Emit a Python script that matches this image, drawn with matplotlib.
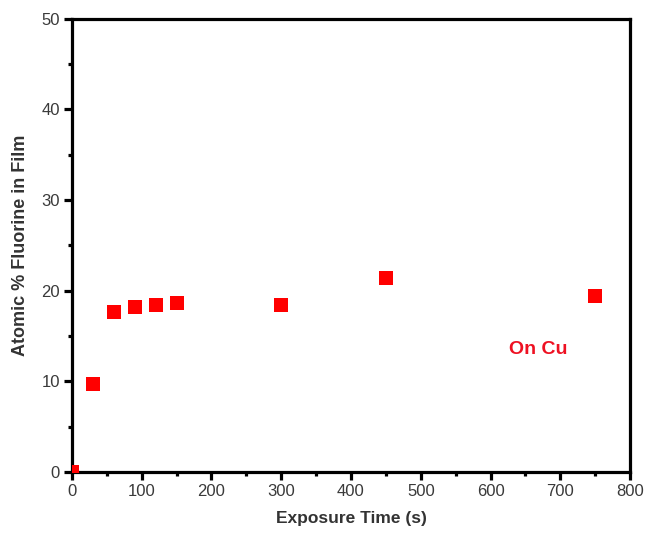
import matplotlib
matplotlib.use("Agg")
import matplotlib.pyplot as plt
from matplotlib.ticker import MultipleLocator

plt.rcParams['font.family'] = ['Liberation Sans', 'DejaVu Sans']

# Exposure time (s) and atomic % fluorine in the film
exposure_time = [0, 30, 60, 90, 120, 150, 300, 450, 750]
fluorine_pct = [0.0, 9.7, 17.7, 18.2, 18.4, 18.6, 18.4, 21.4, 19.4]

x_label = "Exposure Time (s)"
y_label = "Atomic % Fluorine in Film"
note = "On Cu"

fig = plt.figure(figsize=(6.47, 5.37), dpi=100)
ax = fig.add_axes([0.111, 0.121, 0.863, 0.844])

ax.plot(exposure_time, fluorine_pct, linestyle='none', marker='s',
        markersize=9.5, color='#ff0000', markeredgewidth=0, clip_on=True,
        zorder=3)

ax.set_xlim(0, 800)
ax.set_ylim(0, 50)
ax.xaxis.set_major_locator(MultipleLocator(100))
ax.xaxis.set_minor_locator(MultipleLocator(50))
ax.yaxis.set_major_locator(MultipleLocator(10))
ax.yaxis.set_minor_locator(MultipleLocator(5))

for s in ax.spines.values():
    s.set_linewidth(2.3)
    s.set_color('black')

ax.tick_params(which='major', direction='out', length=5.5, width=2.3,
               labelsize=12, labelcolor='#3a3a3a', pad=3)
ax.tick_params(which='minor', direction='out', length=3, width=2.3)

ax.set_xlabel(x_label, fontsize=12.5, fontweight='bold', color='#333333', labelpad=9)
ax.set_ylabel(y_label, fontsize=13, fontweight='bold', color='#333333', labelpad=9)

ax.text(668, 13.5, note, color='#ee1122', fontsize=14, fontweight='bold',
        ha='center', va='center')

fig.savefig("out.png", dpi=100)
